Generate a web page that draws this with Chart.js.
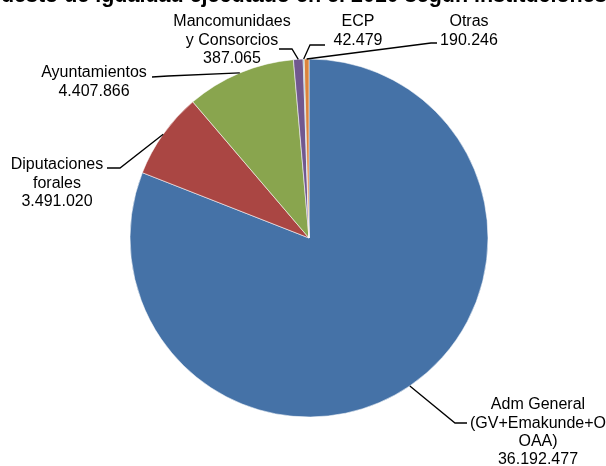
<!DOCTYPE html>
<html>
<head>
<meta charset="utf-8">
<script src="https://cdn.jsdelivr.net/npm/chart.js@4/dist/chart.umd.min.js"></script>
<style>
  html, body { margin: 0; padding: 0; background: #fff; }
  #chart { display: block; }
</style>
</head>
<body>
<canvas id="chart" width="606" height="466"></canvas>
<script>
// Presupuesto de igualdad por instituciones (euros)
const titleText = "Presupuesto de igualdad ejecutado en el 2010 según instituciones";
const categories = [
  ["Adm General", "(GV+Emakunde+O", "OAA)"],
  ["Diputaciones", "forales"],
  ["Ayuntamientos"],
  ["Mancomunidaes", "y Consorcios"],
  ["ECP"],
  ["Otras"]
];
const amounts = [36192477, 3491020, 4407866, 387065, 42479, 190246];
const amountLabels = ["36.192.477", "3.491.020", "4.407.866", "387.065", "42.479", "190.246"];
const sliceColors = ["#4572A7", "#AA4643", "#89A54E", "#71588F", "#4198AF", "#DB843D"];

// where each label sits: text centre x, first line y, elbow of the leader, end of the leader
const labelLayout = [
  { x: 538, y: 405, elbow: [455, 423], end: [467, 423] },
  { x: 57,  y: 165, elbow: [120, 168], end: [107, 168] },
  { x: 94,  y: 73,  elbow: [168, 76],  end: [152, 77] },
  { x: 232, y: 22,  elbow: [292, 49],  end: [279, 49] },
  { x: 358, y: 22,  elbow: [310, 45],  end: [325, 45] },
  { x: 469, y: 22,  elbow: [431, 43],  end: [437, 43] }
];

const LINE_H = 18.2;

// title runs wider than the canvas; only its lower edge shows at the top
const titlePlugin = {
  id: "cutTitle",
  afterDraw(chart) {
    const ctx = chart.ctx;
    ctx.save();
    ctx.font = "bold 21.5px 'Liberation Sans', Arial, sans-serif";
    ctx.fillStyle = "#000";
    ctx.textAlign = "left";
    ctx.textBaseline = "alphabetic";
    ctx.fillText(titleText, -72, 1.5);
    ctx.restore();
  }
};

const leaderLabels = {
  id: "leaderLabels",
  afterDatasetsDraw(chart) {
    const ctx = chart.ctx;
    const arcs = chart.getDatasetMeta(0).data;
    ctx.save();
    ctx.strokeStyle = "#000";
    ctx.lineWidth = 1.3;
    arcs.forEach((arc, i) => {
      const p = arc.getProps(["x", "y", "startAngle", "endAngle", "outerRadius"], true);
      const mid = (p.startAngle + p.endAngle) / 2;
      const sx = p.x + Math.cos(mid) * p.outerRadius;
      const sy = p.y + Math.sin(mid) * p.outerRadius;
      const lay = labelLayout[i];
      ctx.beginPath();
      ctx.moveTo(sx, sy);
      ctx.lineTo(lay.elbow[0], lay.elbow[1]);
      ctx.lineTo(lay.end[0], lay.end[1]);
      ctx.stroke();

      const lines = categories[i].concat([amountLabels[i]]);
      ctx.font = "16px 'Liberation Sans', Arial, sans-serif";
      ctx.fillStyle = "#000";
      ctx.textAlign = "center";
      ctx.textBaseline = "middle";
      lines.forEach((t, k) => ctx.fillText(t, lay.x, lay.y + k * LINE_H));
    });
    ctx.restore();
  }
};

new Chart(document.getElementById("chart"), {
  type: "pie",
  data: {
    labels: categories.map(c => c.join(" ")),
    datasets: [{
      data: amounts,
      backgroundColor: sliceColors,
      borderColor: "rgba(255,255,255,0.55)",
      borderWidth: 1
    }]
  },
  options: {
    responsive: false,
    animation: false,
    layout: { padding: { left: 129.5, top: 58.5, right: 117.5, bottom: 48.5 } },
    plugins: {
      legend: { display: false },
      tooltip: { enabled: false },
      title: { display: false }
    }
  },
  plugins: [leaderLabels, titlePlugin]
});
</script>
</body>
</html>
